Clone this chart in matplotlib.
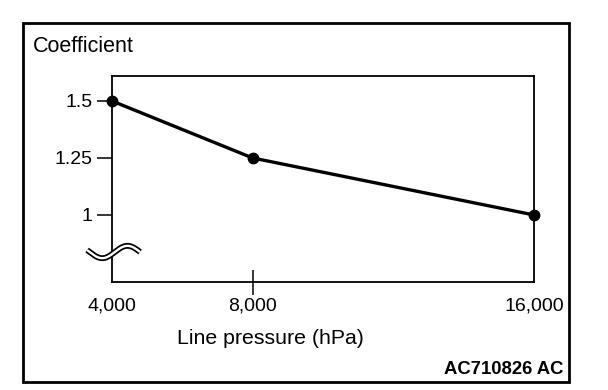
#!/usr/bin/env python3

import matplotlib
matplotlib.use("Agg")

import matplotlib.pyplot as plt
from matplotlib.patches import Rectangle
import numpy as np


OUTPUT_PNG = "out.png"

LINE_PRESSURE = [4000, 8000, 16000]
COEFFICIENT = [1.5, 1.25, 1.0]

X_TICK_LABELS = ["4,000", "8,000", "16,000"]
Y_TICKS = [1.0, 1.25, 1.5]
Y_TICK_LABELS = ["1", "1.25", "1.5"]

FONT = ["Liberation Sans", "DejaVu Sans"]


def draw_break(figure, axis) -> None:
    # double wavy line on the y axis (axis break symbol)
    t = np.linspace(0, 1, 200)
    xs = 0.0 + (t - 0.47) * 53 / 422
    ys = (282 - 252) / 206 - 0.03 * np.sin(2 * np.pi * (t * 1.05 - 0.05))

    axis.plot(xs, ys, transform=axis.transAxes, color="black",
              linewidth=4.2, solid_capstyle="butt", clip_on=False, zorder=5)
    axis.plot(xs, ys, transform=axis.transAxes, color="white",
              linewidth=1.7, solid_capstyle="butt", clip_on=False, zorder=6)


def create_plot() -> None:
    plt.rcParams["font.family"] = FONT

    figure = plt.figure(figsize=(6.08, 3.9), dpi=100)
    figure.patch.set_facecolor("white")

    axis = figure.add_axes([112 / 608, 1 - 282 / 390, 422 / 608, 206 / 390])

    axis.plot(
        LINE_PRESSURE,
        COEFFICIENT,
        color="black",
        linewidth=2.4,
        marker="o",
        markersize=7.5,
        clip_on=False,
        zorder=4,
    )

    axis.set_xlim(4000, 16000)
    axis.set_ylim(0.706, 1.6096)

    axis.set_xticks(LINE_PRESSURE)
    axis.set_xticklabels(X_TICK_LABELS, fontsize=14)
    axis.tick_params(axis="x", direction="inout", length=18, width=1.1, pad=2)

    for index, tick in enumerate(axis.xaxis.get_major_ticks()):
        if index != 1:
            tick.tick1line.set_visible(False)

    axis.set_yticks(Y_TICKS)
    axis.set_yticklabels(Y_TICK_LABELS, fontsize=14)
    axis.tick_params(axis="y", direction="out", length=11, width=1.1, pad=3)

    for spine in axis.spines.values():
        spine.set_linewidth(1.3)

    draw_break(figure, axis)

    figure.text(33 / 608, 1 - 46 / 390, "Coefficient",
                fontsize=15.5, ha="left", va="center")

    figure.text(270 / 608, 1 - 338 / 390, "Line pressure (hPa)",
                fontsize=15.3, ha="center", va="center")

    figure.text(563 / 608, 1 - 370 / 390, "AC710826 AC",
                fontsize=13.3, fontweight="bold", ha="right", va="center")

    figure.patches.append(
        Rectangle(
            (23 / 608, 1 - 382 / 390),
            546 / 608,
            359 / 390,
            transform=figure.transFigure,
            fill=False,
            edgecolor="black",
            linewidth=2.0,
        )
    )

    figure.savefig(OUTPUT_PNG, dpi=100)
    plt.close(figure)


def main() -> None:
    create_plot()


if __name__ == "__main__":
    main()
